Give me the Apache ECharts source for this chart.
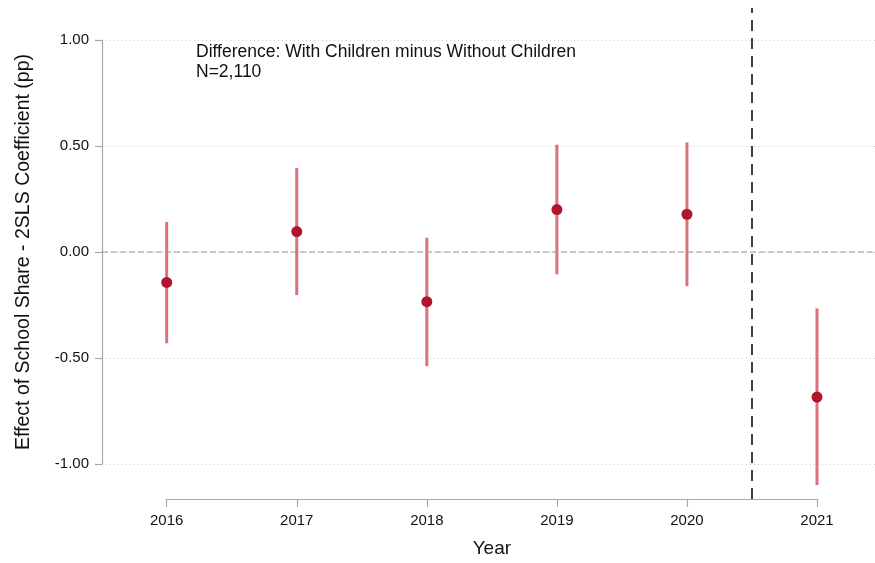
<!DOCTYPE html>
<html>
<head>
<meta charset="utf-8">
<script src="https://cdn.jsdelivr.net/npm/echarts@6/dist/echarts.min.js"></script>
<style>
  html, body { margin: 0; padding: 0; background: #fff; }
  #chart { width: 875px; height: 563px; }
</style>
</head>
<body>
<div id="chart"></div>
<script>
// values
const years = [2016, 2017, 2018, 2019, 2020, 2021];
const coef = [-0.146, 0.094, -0.237, 0.198, 0.176, -0.688];
const ciLow = [-0.434, -0.206, -0.542, -0.108, -0.164, -1.104];
const ciHigh = [0.140, 0.395, 0.065, 0.505, 0.516, -0.269];
const yTicks = [-1, -0.5, 0, 0.5, 1];
const treatLine = 2020.5;

const FONT = 'Liberation Sans, Arial, sans-serif';
const chart = echarts.init(document.getElementById('chart'));

const points = years.map((y, i) => [y, coef[i]]);
const bars = years.map((y, i) => [y, ciLow[i], ciHigh[i]]);

const option = {
  animation: false,
  textStyle: { fontFamily: FONT },
  title: {
    text: 'Difference: With Children minus Without Children\nN=2,110',
    left: 191,
    top: 37,
    textStyle: { fontFamily: FONT, fontSize: 17.5, fontWeight: 'normal', color: '#111', lineHeight: 20 }
  },
  grid: [
    // y axis frame (spans -1..1), gridlines run to the right edge
    { left: 102, right: 0, top: 40, bottom: 99 },
    // data area: x from 2016 to 2021
    { left: 166.7, right: 58, top: 8, bottom: 63 }
  ],
  xAxis: [
    { gridIndex: 0, type: 'value', min: 0, max: 1, show: false },
    {
      gridIndex: 1, type: 'value', min: years[0], max: years[years.length - 1], interval: 1,
      name: 'Year', nameLocation: 'middle', nameGap: 40,
      nameTextStyle: { fontFamily: FONT, fontSize: 19, color: '#111' },
      axisLine: { show: true, onZero: false, lineStyle: { color: '#a8a8a8', width: 1.2 } },
      axisTick: { show: true, length: 8, lineStyle: { color: '#a8a8a8', width: 1.2 } },
      axisLabel: { margin: 14, fontSize: 15, color: '#111', fontFamily: FONT, formatter: v => String(v) },
      splitLine: { show: false }
    }
  ],
  yAxis: [
    {
      gridIndex: 0, type: 'value', min: yTicks[0], max: yTicks[yTicks.length - 1], interval: 0.5,
      name: 'Effect of School Share - 2SLS Coefficient (pp)', nameLocation: 'middle', nameGap: 68,
      nameTextStyle: { fontFamily: FONT, fontSize: 19.5, color: '#111' },
      axisLine: { show: true, lineStyle: { color: '#a8a8a8', width: 1.2 } },
      axisTick: { show: true, length: 7, lineStyle: { color: '#a8a8a8', width: 1.2 } },
      axisLabel: { margin: 13, fontSize: 15, color: '#111', fontFamily: FONT, formatter: v => v.toFixed(2) },
      splitLine: { show: true, lineStyle: { color: '#c8c8c8', type: [1, 3], width: 1 } }
    },
    { gridIndex: 1, type: 'value', min: -1.17, max: 1.151, show: false }
  ],
  series: [
    {
      // zero reference line across the full frame
      type: 'line', xAxisIndex: 0, yAxisIndex: 0, silent: true, symbol: 'none',
      data: [[0, 0], [1, 0]],
      lineStyle: { color: '#9a9a9a', width: 1.2, type: [6, 3] }
    },
    {
      type: 'custom', xAxisIndex: 1, yAxisIndex: 1, silent: true,
      data: bars,
      renderItem: (params, api) => {
        const lo = api.coord([api.value(0), api.value(1)]);
        const hi = api.coord([api.value(0), api.value(2)]);
        return {
          type: 'line',
          shape: { x1: lo[0], y1: lo[1], x2: hi[0], y2: hi[1] },
          style: { stroke: '#d9717e', lineWidth: 3 }
        };
      },
      markLine: {
        silent: true, symbol: 'none', label: { show: false },
        lineStyle: { color: '#111', width: 1.6, type: [11, 7] },
        data: [{ xAxis: treatLine }]
      }
    },
    {
      type: 'scatter', xAxisIndex: 1, yAxisIndex: 1, silent: true,
      data: points, symbol: 'circle', symbolSize: 11,
      itemStyle: { color: '#b2142c', opacity: 1 }
    }
  ]
};

chart.setOption(option);
</script>
</body>
</html>
